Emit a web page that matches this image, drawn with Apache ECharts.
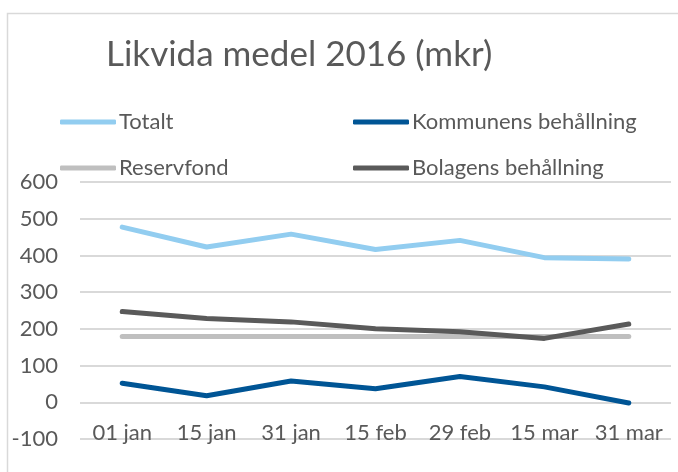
<!DOCTYPE html>
<html>
<head>
<meta charset="utf-8">
<script src="https://cdn.jsdelivr.net/npm/echarts@6/dist/echarts.min.js"></script>
<style>
html,body{margin:0;padding:0;background:#fff;}
#chart{width:678px;height:472px;}
</style>
</head>
<body>
<div id="chart"></div>
<script>
var categories = ['01 jan', '15 jan', '31 jan', '15 feb', '29 feb', '15 mar', '31 mar'];
var totalt = [477, 423, 458, 416, 441, 394, 390];
var kommunens = [52, 18, 58, 37, 70, 42, -2];
var reservfond = [179, 179, 179, 179, 179, 179, 179];
var bolagens = [247, 228, 219, 200, 192, 174, 213];
var seriesNames = ['Totalt', 'Kommunens behållning', 'Reservfond', 'Bolagens behållning'];

var FONT = 'Lato';
var TXT = '#595959';
var colors = ['#92CDF0', '#005595', '#BFBFBF', '#5A5A5A'];

function mkSeries(name, data, color) {
  return {
    name: name, type: 'line', data: data, symbol: 'none', smooth: false,
    lineStyle: { width: 5, color: color, cap: 'round', join: 'round' },
    itemStyle: { color: color },
    emphasis: { disabled: true }
  };
}

var legendCommon = {
  orient: 'vertical', top: 110, padding: 0, itemWidth: 56, itemHeight: 5, itemGap: 22,
  icon: 'roundRect',
  textStyle: { fontFamily: FONT, fontSize: 22, color: TXT, lineHeight: 24, padding: [0, 0, 0, -2] }
};

var chart = echarts.init(document.getElementById('chart'), null, { renderer: 'canvas' });
chart.setOption({
  animation: false,
  color: colors,
  title: {
    text: 'Likvida medel 2016 (mkr)', left: 101, top: 32,
    textStyle: { fontFamily: FONT, fontSize: 35, fontWeight: 'normal', color: TXT }
  },
  legend: [
    Object.assign({}, legendCommon, { left: 60, data: [seriesNames[0], seriesNames[2]] }),
    Object.assign({}, legendCommon, { left: 353, data: [seriesNames[1], seriesNames[3]] })
  ],
  grid: { left: 80, right: 7, top: 182, bottom: 33, containLabel: false },
  xAxis: {
    type: 'category', data: categories, boundaryGap: true,
    axisLine: { show: false, onZero: false }, axisTick: { show: false },
    axisLabel: { margin: -17, fontFamily: FONT, fontSize: 22, color: TXT, interval: 0 },
    splitLine: { show: false }
  },
  yAxis: {
    type: 'value', min: -100, max: 600, interval: 100,
    axisLine: { show: false }, axisTick: { show: false },
    axisLabel: { margin: 22, fontFamily: FONT, fontSize: 22, color: TXT },
    splitLine: { lineStyle: { color: '#D9D9D9', width: 2 } }
  },
  graphic: [{
    type: 'polyline', silent: true,
    shape: { points: [[7.5, 472], [7.5, 13.5], [678, 13.5]] },
    style: { stroke: '#D9D9D9', lineWidth: 1.5, fill: null }
  }],
  series: [
    mkSeries(seriesNames[0], totalt, colors[0]),
    mkSeries(seriesNames[1], kommunens, colors[1]),
    mkSeries(seriesNames[2], reservfond, colors[2]),
    mkSeries(seriesNames[3], bolagens, colors[3])
  ]
});
</script>
</body>
</html>
